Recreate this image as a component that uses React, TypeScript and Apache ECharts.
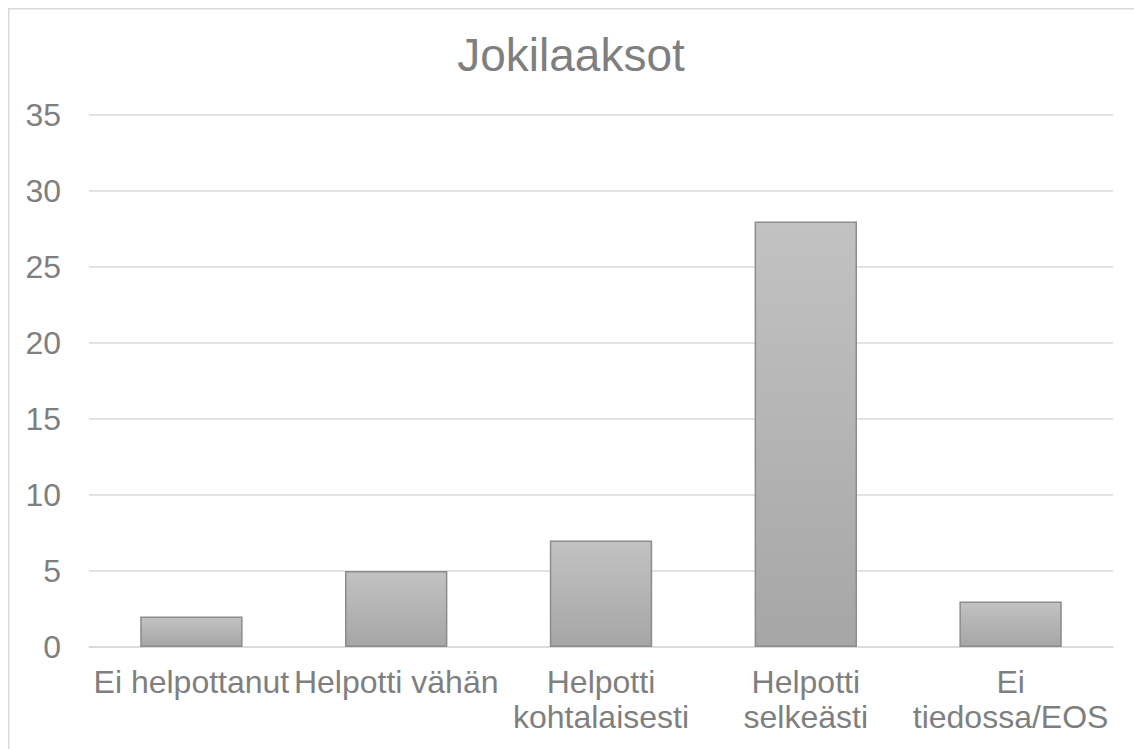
import React, { useEffect, useRef } from "react";
import * as echarts from "echarts";

const titleText = "Jokilaaksot";
const categories = [
  "Ei helpottanut",
  "Helpotti vähän",
  "Helpotti\nkohtalaisesti",
  "Helpotti\nselkeästi",
  "Ei\ntiedossa/EOS",
];
const values = [2, 5, 7, 28, 3];
const yMin = 0;
const yMax = 35;
const yStep = 5;

const FONT = "'Liberation Sans', Arial, sans-serif";
const TEXT = "#7f7f7f";

export default function App() {
  const ref = useRef<HTMLDivElement>(null);
  useEffect(() => {
    if (!ref.current) return;
    const chart = echarts.init(ref.current, undefined, { renderer: "svg" });
    chart.setOption({
      animation: false,
      backgroundColor: "#ffffff",
      title: {
        text: titleText,
        left: "center",
        top: 24,
        padding: 0,
        textStyle: { fontFamily: FONT, fontSize: 46, fontWeight: "normal", color: TEXT },
      },
      graphic: [
        {
          type: "rect",
          shape: { x: 0.75, y: 0.75, width: 3000, height: 3000 },
          style: { fill: "none", stroke: "#d9d9d9", lineWidth: 1.5 },
          silent: true,
          z: -10,
        },
      ],
      grid: { left: 81, right: 21, top: 107, bottom: 102, containLabel: false },
      xAxis: {
        type: "category",
        data: categories,
        axisTick: { show: false },
        axisLine: { show: true, lineStyle: { color: "#d9d9d9", width: 1.5 } },
        axisLabel: {
          interval: 0,
          margin: 17,
          fontFamily: FONT,
          fontSize: 32,
          lineHeight: 35,
          color: TEXT,
          align: "center",
        },
      },
      yAxis: {
        type: "value",
        min: yMin,
        max: yMax,
        interval: yStep,
        axisLine: { show: false },
        axisTick: { show: false },
        splitLine: { lineStyle: { color: "#d9d9d9", width: 1.5 } },
        axisLabel: { margin: 28, fontFamily: FONT, fontSize: 32, color: TEXT },
      },
      series: [
        {
          type: "bar",
          data: values,
          barWidth: "50%",
          itemStyle: {
            color: new echarts.graphic.LinearGradient(0, 0, 0, 1, [
              { offset: 0, color: "#c2c2c2" },
              { offset: 1, color: "#a6a6a6" },
            ]),
            borderColor: "#8c8c8c",
            borderWidth: 1.5,
          },
        },
      ],
    });
    return () => chart.dispose();
  }, []);
  return (
    <div
      ref={ref}
      style={{ position: "absolute", left: 8, top: 8, width: 1126, height: 741 }}
    />
  );
}
